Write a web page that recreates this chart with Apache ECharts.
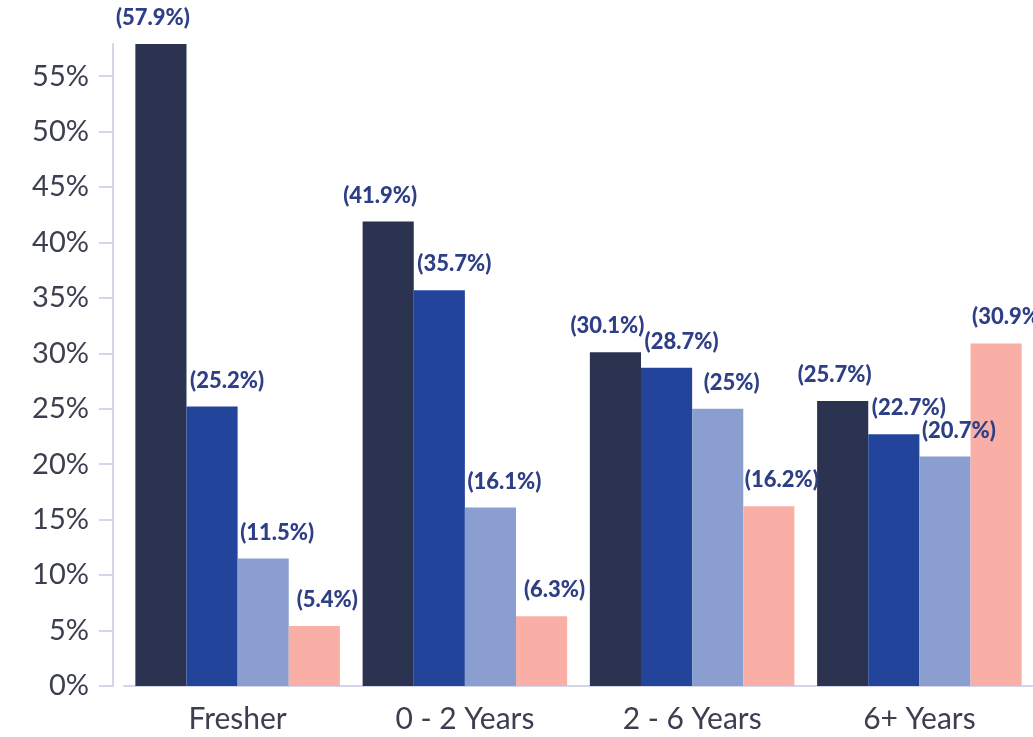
<!DOCTYPE html>
<html>
<head>
<meta charset="utf-8">
<style>
  html, body { margin: 0; padding: 0; background: #fff; }
  #chart { width: 1033px; height: 737px; }
</style>
<script src="https://fastly.jsdelivr.net/npm/echarts@6/dist/echarts.min.js"></script>
</head>
<body>
<div id="chart"></div>
<script>
// 경력 구간
const categories = ["Fresher", "0 - 2 Years", "2 - 6 Years", "6+ Years"];

// 시리즈별 비율 (%)
const seriesA = [57.9, 41.9, 30.1, 25.7];
const seriesB = [25.2, 35.7, 28.7, 22.7];
const seriesC = [11.5, 16.1, 25, 20.7];
const seriesD = [5.4, 6.3, 16.2, 30.9];

// y축 눈금
const yMin = 0;
const yMax = 57.9;
const yInterval = 5;

const colors = ["#2c3350", "#22449b", "#8a9ecf", "#f9afa5"];
const labelShift = [-8, 15, 14, 13];
const axisColor = "#d3d6ea";
const fontFamily = "Lato, 'Open Sans', sans-serif";

const chart = echarts.init(document.getElementById("chart"));

const makeSeries = (data, i) => ({
  type: "bar",
  data: data,
  barGap: 0,
  barCategoryGap: "10%",
  itemStyle: { color: colors[i] },
  label: {
    show: true,
    position: "top",
    distance: 15,
    offset: [labelShift[i], 0],
    formatter: "({c}%)",
    color: "#2f3f86",
    fontSize: 22,
    fontWeight: 900,
    fontFamily: fontFamily,
  },
});

chart.setOption({
  animation: false,
  grid: {
    left: 124,
    width: 910,
    top: 44,
    bottom: 51,
  },
  xAxis: {
    type: "category",
    data: categories,
    axisLine: { lineStyle: { color: axisColor, width: 2 } },
    axisTick: {
      alignWithLabel: true,
      length: 14,
      lineStyle: { color: axisColor, width: 2 },
    },
    axisLabel: {
      color: "#3c3f50",
      fontSize: 30,
      margin: 18,
      fontFamily: fontFamily,
    },
  },
  yAxis: {
    type: "value",
    min: yMin,
    max: yMax,
    interval: yInterval,
    offset: 11,
    axisLine: { show: true, lineStyle: { color: axisColor, width: 2 } },
    axisTick: {
      show: true,
      length: 14,
      lineStyle: { color: axisColor, width: 2 },
    },
    splitLine: { show: false },
    axisLabel: {
      formatter: "{value}%",
      showMaxLabel: false,
      color: "#3c3f50",
      fontSize: 29,
      margin: 24,
      fontFamily: fontFamily,
    },
  },
  series: [seriesA, seriesB, seriesC, seriesD].map(makeSeries),
});
</script>
</body>
</html>
